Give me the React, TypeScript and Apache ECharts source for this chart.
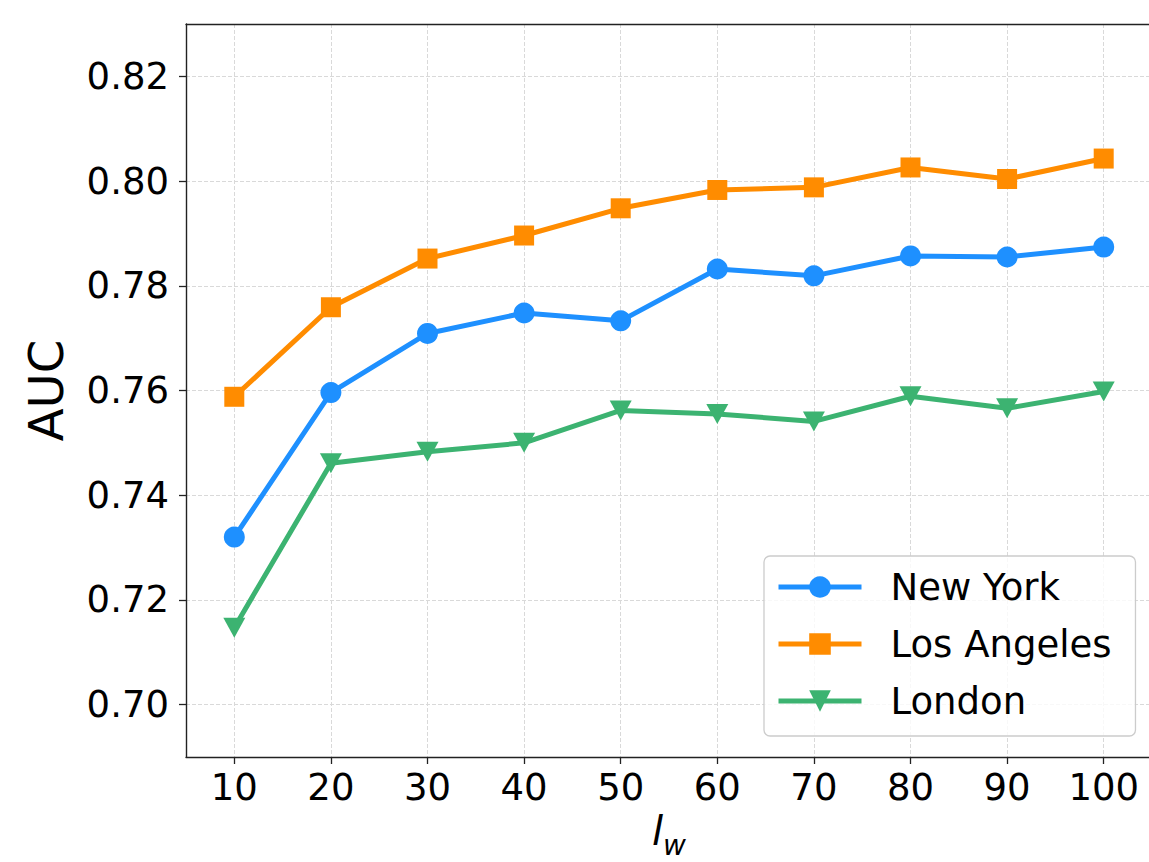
import { useEffect, useRef } from 'react';
import * as echarts from 'echarts';

// Window length l_w on the x axis
const windowSizes = [10, 20, 30, 40, 50, 60, 70, 80, 90, 100];

// AUC per city
const newYork = [0.7320, 0.7596, 0.7709, 0.7748, 0.7733, 0.7832, 0.7819, 0.7857, 0.7855, 0.7874];
const losAngeles = [0.7588, 0.7759, 0.7852, 0.7896, 0.7948, 0.7983, 0.7988, 0.8026, 0.8004, 0.8043];
const london = [0.7147, 0.7461, 0.7483, 0.7500, 0.7562, 0.7555, 0.7541, 0.7589, 0.7566, 0.7598];

const yTicks = [0.70, 0.72, 0.74, 0.76, 0.78, 0.80, 0.82];
const xTicks = windowSizes;

const FONT = 'DejaVu Sans';

const pairs = (ys: number[]) => windowSizes.map((x, i) => [x, ys[i]]);

export default function App() {
  const ref = useRef<HTMLDivElement>(null);

  useEffect(() => {
    const chart = echarts.init(ref.current!, null, { renderer: 'svg' });
    const gridLine = { show: true, lineStyle: { color: '#d9d9d9', width: 1, type: [4, 2] as any } };
    const spine = { show: true, onZero: false, lineStyle: { color: '#222', width: 1.4 } };
    chart.setOption({
      animation: false,
      backgroundColor: '#ffffff',
      textStyle: { fontFamily: FONT },
      grid: {
        left: 186, top: 24, right: -3, bottom: 105,
        outerBoundsMode: 'none',
        containLabel: false,
        show: false,
      },
      xAxis: [
        {
          type: 'value',
          min: 5,
          max: 105,
          axisLine: spine,
          axisTick: { show: true, length: 7, customValues: xTicks, lineStyle: { color: '#222', width: 1.3 } },
          axisLabel: { customValues: xTicks, fontSize: 37, color: '#000', margin: 12, fontFamily: FONT },
          splitLine: gridLine,
          name: '{l|l}{w|w}',
          nameLocation: 'middle',
          nameGap: 47,
          nameTextStyle: {
            rich: {
              l: { fontFamily: FONT, fontStyle: 'italic', fontSize: 40, color: '#000', verticalAlign: 'bottom', lineHeight: 46 },
              w: { fontFamily: FONT, fontStyle: 'italic', fontSize: 28, color: '#000', verticalAlign: 'bottom', lineHeight: 28, padding: [0, 0, -9, 0] },
            },
          },
        },
        {
          // top spine of the frame
          type: 'value',
          position: 'top',
          min: 5,
          max: 105,
          axisLine: spine,
          axisTick: { show: false },
          axisLabel: { show: false },
          splitLine: { show: false },
        },
      ],
      yAxis: {
        type: 'value',
        min: 0.69,
        max: 0.83,
        axisLine: spine,
        axisTick: { show: true, length: 7, customValues: yTicks, lineStyle: { color: '#222', width: 1.3 } },
        axisLabel: {
          customValues: yTicks,
          fontSize: 37,
          color: '#000',
          margin: 17,
          fontFamily: FONT,
          formatter: (v: number) => v.toFixed(2),
        },
        splitLine: gridLine,
        name: 'AUC',
        nameLocation: 'middle',
        nameGap: 116,
        nameRotate: 90,
        nameTextStyle: { fontSize: 48, color: '#000', fontFamily: FONT },
      },
      legend: {
        orient: 'vertical',
        left: 764,
        top: 556,
        padding: [9, 24, 13, 12],
        itemGap: 13,
        itemWidth: 83,
        itemHeight: 27,
        borderColor: '#cccccc',
        borderWidth: 1.3,
        borderRadius: 6,
        backgroundColor: 'rgba(255,255,255,0.8)',
        lineStyle: { width: 5 },
        textStyle: { fontSize: 37, color: '#000', fontFamily: FONT, lineHeight: 44, padding: [0, 0, 0, 24] },
        data: ['New York', 'Los Angeles', 'London'],
      },
      series: [
        {
          name: 'New York',
          type: 'line',
          data: pairs(newYork),
          symbol: 'circle',
          symbolSize: 21,
          color: '#1E90FF',
          lineStyle: { width: 5, color: '#1E90FF' },
          itemStyle: { color: '#1E90FF' },
        },
        {
          name: 'Los Angeles',
          type: 'line',
          data: pairs(losAngeles),
          symbol: 'rect',
          symbolSize: 20,
          color: '#FF8C00',
          lineStyle: { width: 5, color: '#FF8C00' },
          itemStyle: { color: '#FF8C00' },
        },
        {
          name: 'London',
          type: 'line',
          data: pairs(london),
          symbol: 'triangle',
          symbolRotate: 180,
          symbolSize: [22, 20],
          color: '#3CB371',
          lineStyle: { width: 5, color: '#3CB371' },
          itemStyle: { color: '#3CB371' },
        },
      ],
    });
    return () => chart.dispose();
  }, []);

  return (
    <div
      ref={ref}
      style={{ position: 'absolute', left: 0, top: 0, width: 1149, height: 862, background: '#fff' }}
    />
  );
}
